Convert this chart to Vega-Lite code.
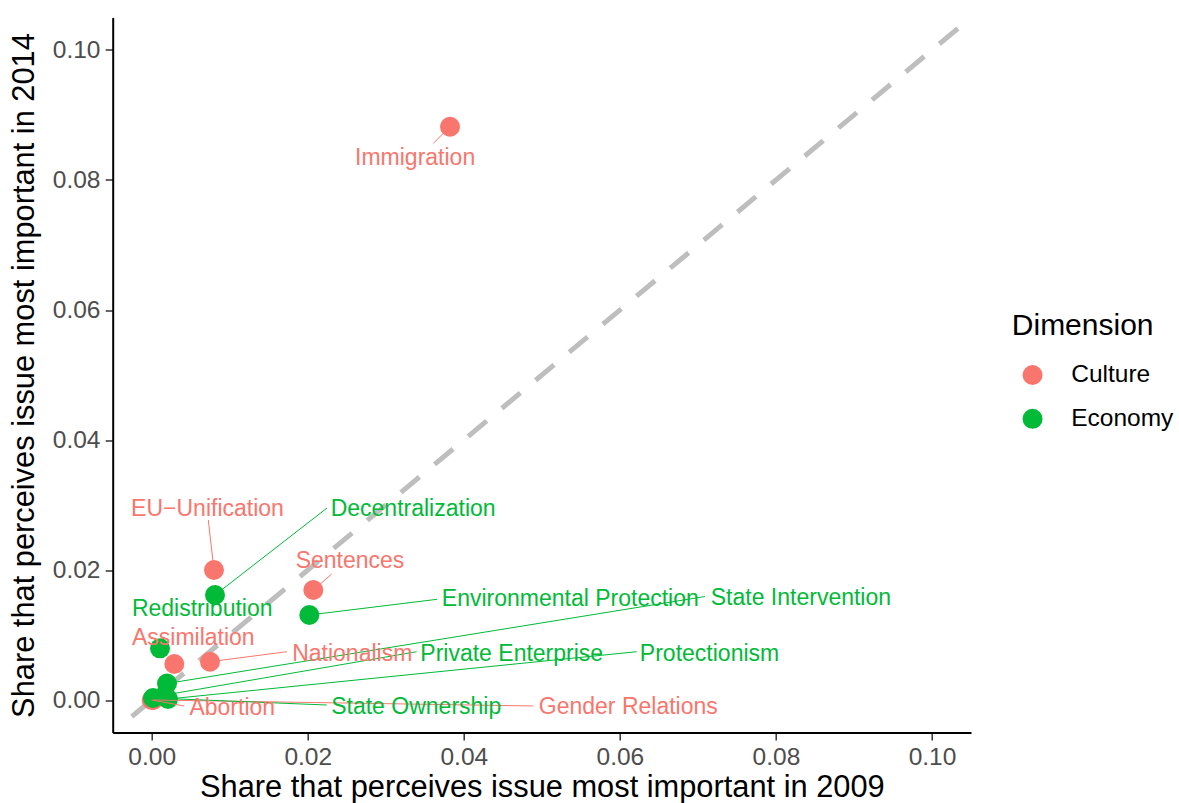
{
  "$schema": "https://vega.github.io/schema/vega-lite/v6.json",
  "width": 858.3,
  "height": 715,
  "autosize": {"type": "none"},
  "padding": {"left": 112.7, "top": 17.5, "right": 208, "bottom": 70.5},
  "background": "white",
  "config": {
    "font": "Liberation Sans",
    "view": {"stroke": null},
    "axis": {
      "grid": false,
      "format": ".2f",
      "tickSize": 7.5,
      "tickWidth": 1.5,
      "tickColor": "#333333",
      "domainColor": "#000000",
      "domainWidth": 2,
      "labelFontSize": 24.5,
      "labelColor": "#4D4D4D",
      "labelFlush": false,
      "labelOverlap": false,
      "titleFontSize": 30.8,
      "titleFontWeight": "normal",
      "titleColor": "#000000",
      "titleBaseline": "alphabetic"
    },
    "axisX": {"labelPadding": 5.5, "titleX": 429.15, "titleY": 64},
    "axisY": {"labelPadding": 5.2, "titleX": -79, "titleY": 357.5, "titleAngle": 270}
  },
  "datasets": {
    "issues": [
      {"issue": "Immigration", "dim": "Culture", "x": 0.03823, "y": 0.0882, "lx": 0.03376, "ly": 0.08338, "sx": 0.03609, "sy": 0.08565},
      {"issue": "EU−Unification", "dim": "Culture", "x": 0.00798, "y": 0.02, "lx": 0.00715, "ly": 0.02943, "sx": 0.00725, "sy": 0.02769},
      {"issue": "Sentences", "dim": "Culture", "x": 0.02071, "y": 0.01692, "lx": 0.02541, "ly": 0.02134, "sx": 0.02307, "sy": 0.01938},
      {"issue": "Assimilation", "dim": "Culture", "x": 0.0029, "y": 0.00554, "lx": 0.00533, "ly": 0.00954, "sx": 0.0029, "sy": 0.00554},
      {"issue": "Nationalism", "dim": "Culture", "x": 0.00747, "y": 0.00589, "lx": 0.0257, "ly": 0.00712, "sx": 0.01734, "sy": 0.00743},
      {"issue": "Gender Relations", "dim": "Culture", "x": 0.0002, "y": 0.0, "lx": 0.06108, "ly": -0.001, "sx": 0.0489, "sy": -0.00092},
      {"issue": "Abortion", "dim": "Culture", "x": 0.0, "y": 0.0, "lx": 0.01032, "ly": -0.00123, "sx": 0.00414, "sy": -0.00092},
      {"issue": "Decentralization", "dim": "Economy", "x": 0.00811, "y": 0.01615, "lx": 0.0335, "ly": 0.02943, "sx": 0.02247, "sy": 0.02954},
      {"issue": "Environmental Protection", "dim": "Economy", "x": 0.0202, "y": 0.01308, "lx": 0.05365, "ly": 0.01558, "sx": 0.03656, "sy": 0.01549},
      {"issue": "State Intervention", "dim": "Economy", "x": 0.00196, "y": 0.00254, "lx": 0.0832, "ly": 0.01569, "sx": 0.07091, "sy": 0.01592},
      {"issue": "Redistribution", "dim": "Economy", "x": 0.00106, "y": 0.00795, "lx": 0.00647, "ly": 0.01405, "sx": 0.00106, "sy": 0.00795},
      {"issue": "Private Enterprise", "dim": "Economy", "x": 0.0017, "y": 0.00077, "lx": 0.04614, "ly": 0.00712, "sx": 0.03396, "sy": 0.00743},
      {"issue": "Protectionism", "dim": "Economy", "x": 0.00209, "y": 0.00015, "lx": 0.07149, "ly": 0.00712, "sx": 0.06216, "sy": 0.00743},
      {"issue": "State Ownership", "dim": "Economy", "x": 0.00017, "y": 0.00031, "lx": 0.0339, "ly": -0.001, "sx": 0.02243, "sy": -0.00077}
    ],
    "diag": [{"a": -0.00256, "b": 0.105}]
  },
  "layer": [
    {
      "data": {"name": "diag"},
      "mark": {"type": "rule", "color": "#BEBEBE", "strokeWidth": 5, "strokeDash": [24, 19.8], "clip": true},
      "encoding": {
        "x": {"field": "a", "type": "quantitative", "title": "Share that perceives issue most important in 2009", "scale": {"domain": [-0.005, 0.105], "nice": false, "zero": false}, "axis": {"values": [0, 0.02, 0.04, 0.06, 0.08, 0.1]}},
        "y": {"field": "a", "type": "quantitative", "title": "Share that perceives issue most important in 2014", "scale": {"domain": [-0.005, 0.105], "nice": false, "zero": false}, "axis": {"values": [0, 0.02, 0.04, 0.06, 0.08, 0.1]}},
        "x2": {"field": "b"},
        "y2": {"field": "b"}
      }
    },
    {
      "data": {"name": "issues"},
      "mark": {"type": "point", "filled": true, "size": 400, "opacity": 1, "strokeWidth": 0},
      "encoding": {
        "x": {"field": "x", "type": "quantitative", "title": "Share that perceives issue most important in 2009", "axis": {"values": [0, 0.02, 0.04, 0.06, 0.08, 0.1]}},
        "y": {"field": "y", "type": "quantitative", "title": "Share that perceives issue most important in 2014", "axis": {"values": [0, 0.02, 0.04, 0.06, 0.08, 0.1]}},
        "color": {
          "field": "dim", "type": "nominal",
          "scale": {"domain": ["Culture", "Economy"], "range": ["#F8766D", "#00BA38"]},
          "legend": {
            "orient": "none", "legendX": 899.1, "legendY": 293.8, "padding": 0,
            "title": "Dimension", "titleFontSize": 30, "titleFontWeight": "normal", "titleColor": "#000000", "titlePadding": 21.5,
            "labelFontSize": 24.5, "labelColor": "#000000", "labelOffset": 26.4,
            "symbolType": "circle", "symbolSize": 400, "symbolStrokeWidth": 0, "symbolOpacity": 1, "symbolOffset": 8.5,
            "rowPadding": 18.8
          }
        }
      }
    },
    {
      "data": {"name": "issues"},
      "mark": {"type": "rule", "strokeWidth": 1},
      "encoding": {
        "x": {"field": "x", "type": "quantitative", "title": "Share that perceives issue most important in 2009", "axis": {"values": [0, 0.02, 0.04, 0.06, 0.08, 0.1]}},
        "y": {"field": "y", "type": "quantitative", "title": "Share that perceives issue most important in 2014", "axis": {"values": [0, 0.02, 0.04, 0.06, 0.08, 0.1]}},
        "x2": {"field": "sx"},
        "y2": {"field": "sy"},
        "color": {"field": "dim", "type": "nominal", "legend": null}
      }
    },
    {
      "data": {"name": "issues"},
      "mark": {"type": "text", "align": "center", "baseline": "middle", "fontSize": 23},
      "encoding": {
        "x": {"field": "lx", "type": "quantitative", "title": "Share that perceives issue most important in 2009", "axis": {"values": [0, 0.02, 0.04, 0.06, 0.08, 0.1]}},
        "y": {"field": "ly", "type": "quantitative", "title": "Share that perceives issue most important in 2014", "axis": {"values": [0, 0.02, 0.04, 0.06, 0.08, 0.1]}},
        "text": {"field": "issue"},
        "color": {"field": "dim", "type": "nominal", "legend": null}
      }
    }
  ]
}
